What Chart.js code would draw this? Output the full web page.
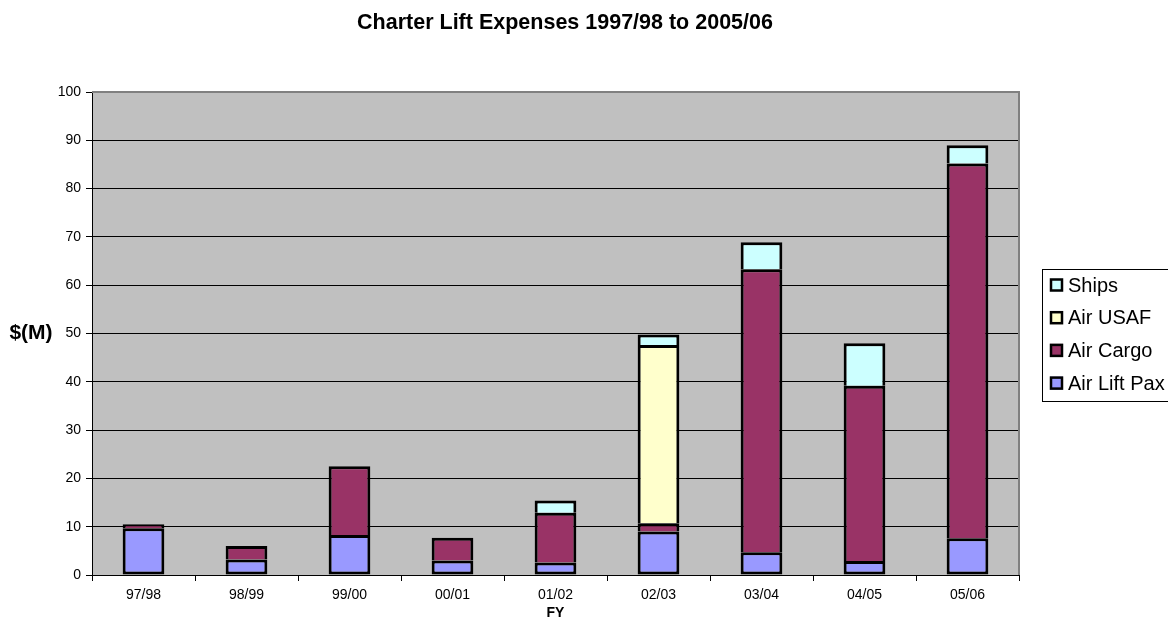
<!DOCTYPE html>
<html>
<head>
<meta charset="utf-8">
<title>Charter Lift Expenses</title>
<script src="https://cdn.jsdelivr.net/npm/chart.js@4/dist/chart.umd.min.js"></script>
<style>
  body { margin: 0; background: #fff; }
  canvas { display: block; }
</style>
</head>
<body>
<canvas id="chart" width="1168" height="630"></canvas>
<script>
// values in $M
const years = ['97/98', '98/99', '99/00', '00/01', '01/02', '02/03', '03/04', '04/05', '05/06'];
const airLiftPax = [9.7, 3.2, 8.3, 3.0, 2.6, 9.0, 4.7, 2.9, 7.6];
const airCargo = [0.8, 2.8, 14.2, 4.7, 10.3, 1.7, 58.6, 36.3, 77.6];
const airUSAF = [null, null, null, null, null, 36.9, null, null, null];
const ships = [null, null, null, null, 2.5, 2.2, 5.6, 8.8, 3.8];
const yTicks = [0, 10, 20, 30, 40, 50, 60, 70, 80, 90, 100];

const FONT = "Arial, 'Liberation Sans', sans-serif";

// grey plot area, title, y title and the boxed legend
const decor = {
    id: 'decor',
    beforeDraw(chart) {
        const ctx = chart.ctx;
        const a = chart.chartArea;
        ctx.save();
        ctx.fillStyle = '#C0C0C0';
        ctx.fillRect(a.left, a.top, a.right - a.left, a.bottom - a.top);
        ctx.restore();
    },
    afterDraw(chart) {
        const ctx = chart.ctx;
        const a = chart.chartArea;
        ctx.save();

        // top and right frame of the plot
        ctx.strokeStyle = '#808080';
        ctx.lineWidth = 2;
        ctx.beginPath();
        ctx.moveTo(a.left, a.top);
        ctx.lineTo(a.right, a.top);
        ctx.lineTo(a.right, a.bottom);
        ctx.stroke();

        ctx.fillStyle = '#000';
        ctx.textAlign = 'center';
        ctx.textBaseline = 'middle';
        ctx.font = 'bold 21.5px ' + FONT;
        ctx.fillText('Charter Lift Expenses 1997/98 to 2005/06', 565, 23);
        ctx.font = 'bold 21px ' + FONT;
        ctx.fillText('$(M)', 31, 333);

        // legend, top series first
        const lx = 1042, ly = 269;
        ctx.lineWidth = 1;
        ctx.strokeStyle = '#000';
        ctx.fillStyle = '#fff';
        ctx.fillRect(lx, ly, 140, 132);
        ctx.strokeRect(lx + 0.5, ly + 0.5, 140, 132);
        ctx.font = '20px ' + FONT;
        ctx.textAlign = 'left';
        const sets = chart.data.datasets.slice().reverse();
        sets.forEach((ds, i) => {
            const y = ly + 16 + i * 32.7;
            ctx.fillStyle = ds.backgroundColor;
            ctx.fillRect(lx + 8, y - 6.5, 13, 13);
            ctx.lineWidth = 2.5;
            ctx.strokeRect(lx + 9, y - 5.5, 11, 11);
            ctx.fillStyle = '#000';
            ctx.fillText(ds.label, lx + 26, y + 1);
        });
        ctx.restore();
    }
};

new Chart(document.getElementById('chart'), {
    type: 'bar',
    data: {
        labels: years,
        datasets: [
            { label: 'Air Lift Pax', data: airLiftPax, backgroundColor: '#9999FF', borderSkipped: false },
            { label: 'Air Cargo', data: airCargo, backgroundColor: '#993366' },
            { label: 'Air USAF', data: airUSAF, backgroundColor: '#FFFFCC' },
            { label: 'Ships', data: ships, backgroundColor: '#CCFFFF' }
        ]
    },
    options: {
        responsive: false,
        animation: false,
        layout: {
            padding: { top: 92, right: 149, bottom: 4, left: 0 }
        },
        datasets: {
            bar: {
                borderColor: '#000',
                borderWidth: 3,
                categoryPercentage: 1,
                barPercentage: 0.405
            }
        },
        scales: {
            x: {
                stacked: true,
                afterFit: s => { s.height = 51; },
                grid: {
                    drawOnChartArea: false,
                    color: '#000',
                    tickLength: 6,
                    tickColor: '#000'
                },
                border: { color: '#000', width: 1 },
                ticks: {
                    color: '#000',
                    padding: 6,
                    font: { family: FONT, size: 14 }
                },
                title: {
                    display: true,
                    text: 'FY',
                    color: '#000',
                    padding: { top: 0, bottom: 4 },
                    font: { family: FONT, size: 14, weight: 'bold' }
                }
            },
            y: {
                stacked: true,
                min: 0,
                max: 100,
                afterFit: s => { s.width = 92; },
                afterBuildTicks: s => { s.ticks = yTicks.map(v => ({ value: v })); },
                grid: {
                    color: '#000',
                    lineWidth: 1,
                    tickLength: 6
                },
                border: { color: '#000', width: 1 },
                ticks: {
                    color: '#000',
                    padding: 5,
                    font: { family: FONT, size: 14 }
                }
            }
        },
        plugins: {
            legend: { display: false },
            tooltip: { enabled: false }
        }
    },
    plugins: [decor]
});
</script>
</body>
</html>
